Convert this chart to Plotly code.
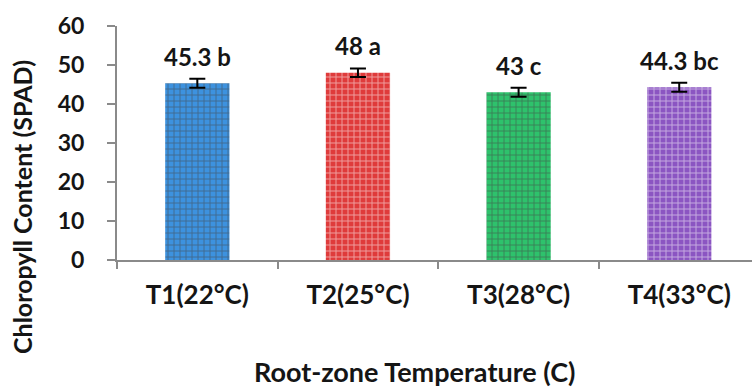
import plotly.graph_objects as go

categories = ["T1(22°C)", "T2(25°C)", "T3(28°C)", "T4(33°C)"]
values = [45.3, 48.0, 43.0, 44.3]
errors = [1.15, 1.1, 1.15, 1.15]
letters = ["b", "a", "c", "bc"]
value_labels = ["45.3", "48", "43", "44.3"]
y_ticks = [0, 10, 20, 30, 40, 50, 60]

bar_colors = ["#3d92df", "#df3b3b", "#2ec26c", "#8b55c2"]

FONT = "Lato"
TXT = "#151515"

fig = go.Figure()
fig.add_trace(go.Bar(
    x=categories, y=values, width=0.4,
    marker=dict(
        color=bar_colors,
        line=dict(width=0),
        pattern=dict(shape="+", fgcolor="white", fgopacity=0.5,
                     size=6, solidity=0.3, fillmode="overlay"),
    ),
    error_y=dict(type="data", array=errors, visible=True,
                 color="black", thickness=2, width=8),
    showlegend=False,
))

for c, v, vl, l in zip(categories, values, value_labels, letters):
    fig.add_annotation(x=c, y=v, text=f"{vl} {l}", showarrow=False,
                       yanchor="middle", yshift=27,
                       font=dict(family=FONT, size=24, color=TXT, weight="bold"))

fig.add_annotation(xref="paper", yref="paper", x=-0.1496, y=0.2265,
                   text="Chloropyll Content (SPAD)", textangle=-90,
                   showarrow=False, xanchor="center", yanchor="middle",
                   font=dict(family=FONT, size=25, color=TXT, weight="bold"))
fig.add_annotation(xref="paper", yref="paper", x=0.468, y=-0.4786,
                   text="Root-zone Temperature (C)",
                   showarrow=False, xanchor="center", yanchor="middle",
                   font=dict(family=FONT, size=27, color=TXT, weight="bold"))

fig.update_layout(
    width=752, height=387,
    margin=dict(l=117, r=0, t=26, b=127),
    paper_bgcolor="white", plot_bgcolor="white",
    xaxis=dict(
        range=[-0.5, 3.453], showgrid=False, zeroline=False,
        showline=True, linecolor="#8a8a8a", linewidth=2,
        ticks="outside", tickson="boundaries", ticklen=7, tickwidth=2,
        tickcolor="#8a8a8a", ticklabelstandoff=11,
        tickfont=dict(family=FONT, size=26, color=TXT, weight="bold"),
    ),
    yaxis=dict(
        range=[0, 60], tickvals=y_ticks, showgrid=False, zeroline=False,
        showline=True, linecolor="#8a8a8a", linewidth=2,
        ticks="outside", ticklen=8, tickwidth=2, tickcolor="#8a8a8a",
        ticklabelstandoff=18,
        tickfont=dict(family=FONT, size=23, color=TXT, weight="bold"),
    ),
)

fig.write_html("out.html")
